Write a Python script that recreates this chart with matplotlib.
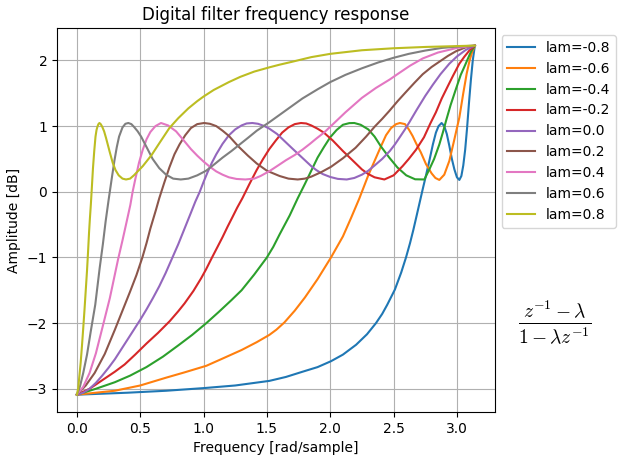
import matplotlib
matplotlib.use('Agg')
import matplotlib.pyplot as plt

# values (x in rad/sample, y in dB)
lams = [-0.8, -0.6, -0.4, -0.2, 0.0, 0.2, 0.4, 0.6, 0.8]

x_m08 = [0, .4, .706, 1.0, 1.25, 1.519, 1.65, 1.782, 1.9, 2.006, 2.1, 2.204, 2.29, 2.361, 2.41, 2.45, 2.51,
         2.56, 2.598, 2.63, 2.656, 2.68, 2.705, 2.73, 2.757, 2.782, 2.81, 2.834, 2.855, 2.879, 2.9, 2.92,
         2.94, 2.96, 2.98, 3.0, 3.019, 3.035, 3.05, 3.065, 3.08, 3.095, 3.11, 3.125, 3.1416]
y_m08 = [-3.09, -3.06, -3.03, -2.99, -2.95, -2.88, -2.82, -2.74, -2.67, -2.58, -2.48, -2.33, -2.17, -2.0, -1.86,
         -1.72, -1.49, -1.23, -1.0, -0.78, -0.58, -0.38, -0.17, 0.04, 0.26, 0.47, 0.72, 0.9, 1.0, 1.047, 1.0,
         0.88, 0.7, 0.5, 0.34, 0.22, 0.18, 0.24, 0.4, 0.64, 0.97, 1.35, 1.7, 2.0, 2.226]

x_m06 = [0, .3, .5, .706, .85, 1.022, 1.15, 1.3, 1.42, 1.519, 1.575, 1.638, 1.72, 1.8, 1.9, 2.006, 2.1,
         2.164, 2.23, 2.3, 2.35, 2.4, 2.44, 2.48, 2.52, 2.55, 2.59, 2.62, 2.65, 2.677, 2.715, 2.756, 2.8,
         2.83, 2.861, 2.9, 2.94, 2.98, 3.0, 3.019, 3.05, 3.077, 3.1, 3.119, 3.1416]
y_m06 = [-3.09, -3.03, -2.95, -2.83, -2.75, -2.65, -2.54, -2.41, -2.29, -2.18, -2.1, -1.99, -1.81, -1.61, -1.33,
         -1.0, -0.68, -0.4, -0.1, 0.25, 0.47, 0.69, 0.86, 0.97, 1.03, 1.047, 1.03, 0.95, 0.85, 0.74, 0.6, 0.42,
         0.28, 0.21, 0.18, 0.26, 0.47, 0.8, 0.97, 1.13, 1.5, 1.8, 2.0, 2.12, 2.226]

x_m04 = [0, .15, .3, .42, .549, .68, .8, .91, 1.022, 1.12, 1.22, 1.3, 1.4, 1.5, 1.55, 1.6, 1.68, 1.743,
         1.8, 1.85, 1.9, 1.95, 2.0, 2.05, 2.1, 2.15, 2.19, 2.24, 2.3, 2.35, 2.4, 2.466, 2.53, 2.6, 2.67,
         2.743, 2.782, 2.82, 2.861, 2.89, 2.914, 2.95, 2.993, 3.03, 3.058, 3.085, 3.11, 3.1416]
y_m04 = [-3.09, -3.0, -2.9, -2.8, -2.67, -2.51, -2.34, -2.18, -2.0, -1.83, -1.65, -1.5, -1.26, -1.0, -0.84,
         -0.65, -0.36, -0.1, 0.12, 0.32, 0.52, 0.68, 0.83, 0.94, 1.02, 1.045, 1.047, 1.02, 0.95, 0.84, 0.69, 0.52,
         0.37, 0.25, 0.19, 0.187, 0.34, 0.5, 0.72, 0.91, 1.08, 1.32, 1.57, 1.78, 1.9, 2.02, 2.13, 2.226]

x_m02 = [0, .1, .2, .3, .377, .46, .55, .64, .733, .8, .85, .92, .98, 1.02, 1.067, 1.11, 1.15, 1.19, 1.227,
         1.266, 1.306, 1.36, 1.419, 1.47, 1.519, 1.57, 1.62, 1.67, 1.72, 1.769, 1.81, 1.85, 1.9, 1.95, 2.02,
         2.1, 2.17, 2.25, 2.3, 2.35, 2.427, 2.5, 2.571, 2.62, 2.677, 2.74, 2.79, 2.834, 2.88, 2.926, 2.97,
         3.019, 3.06, 3.098, 3.1416]
y_m02 = [-3.09, -3.0, -2.87, -2.74, -2.63, -2.48, -2.31, -2.15, -1.97, -1.82, -1.7, -1.51, -1.32, -1.18, -1.0,
         -0.84, -0.69, -0.53, -0.39, -0.24, -0.1, 0.11, 0.33, 0.5, 0.65, 0.78, 0.9, 0.98, 1.03, 1.047, 1.04, 1.01,
         0.96, 0.9, 0.78, 0.62, 0.49, 0.34, 0.27, 0.22, 0.187, 0.25, 0.39, 0.5, 0.64, 0.83, 1.04, 1.21, 1.42,
         1.6, 1.77, 1.95, 2.06, 2.15, 2.226]

x_00 = [0, .05, .1, .15, .2, .25, .3, .35, .4, .45, .5, .55, .6, .65, .7, .75, .8, .85, .9, .935, .97, 1.0,
        1.03, 1.065, 1.1, 1.15, 1.2, 1.25, 1.3, 1.34, 1.385, 1.43, 1.48, 1.52, 1.58, 1.64, 1.7, 1.75, 1.8,
        1.85, 1.89, 1.94, 2.0, 2.06, 2.13, 2.19, 2.25, 2.3, 2.35, 2.41, 2.47, 2.51, 2.545, 2.59, 2.625,
        2.68, 2.75, 2.81, 2.87, 2.94, 3.0, 3.07, 3.1416]
y_00 = [-3.09, -3.06, -3.0, -2.91, -2.8, -2.68, -2.55, -2.4, -2.25, -2.1, -1.95, -1.79, -1.62, -1.44, -1.24,
        -1.02, -0.8, -0.56, -0.32, -0.15, 0.0, 0.15, 0.29, 0.44, 0.57, 0.73, 0.86, 0.95, 1.01, 1.04, 1.047,
        1.035, 1.0, 0.96, 0.88, 0.77, 0.66, 0.57, 0.48, 0.39, 0.33, 0.27, 0.225, 0.196, 0.187, 0.21, 0.26,
        0.32, 0.4, 0.5, 0.62, 0.72, 0.82, 0.95, 1.06, 1.24, 1.46, 1.63, 1.79, 1.95, 2.06, 2.16, 2.226]

x_02 = [0, .07, .14, .22, .3, .36, .42, .47, .517, .55, .58, .625, .65, .69, .73, .77, .81, .855, .9, .95,
        1.004, 1.05, 1.1, 1.15, 1.2, 1.275, 1.35, 1.42, 1.5, 1.6, 1.67, 1.743, 1.8, 1.85, 1.93, 2.006, 2.1,
        2.2, 2.283, 2.35, 2.41, 2.466, 2.532, 2.598, 2.665, 2.73, 2.8, 2.861, 2.93, 2.993, 3.07, 3.1416]
y_02 = [-3.09, -2.95, -2.76, -2.47, -2.1, -1.81, -1.52, -1.27, -1.0, -0.78, -0.56, -0.27, -0.1, 0.14, 0.37,
        0.57, 0.72, 0.86, 0.97, 1.03, 1.047, 1.035, 1.0, 0.93, 0.85, 0.69, 0.55, 0.43, 0.32, 0.24, 0.2, 0.187,
        0.2, 0.23, 0.3, 0.38, 0.51, 0.67, 0.84, 0.99, 1.11, 1.23, 1.38, 1.52, 1.66, 1.79, 1.9, 1.98, 2.07,
        2.14, 2.2, 2.226]

x_04 = [0, .05, .1, .15, .2, .26, .325, .36, .39, .422, .44, .462, .49, .52, .55, .58, .62, .664, .72, .783,
        .84, .9, .95, 1.0, 1.05, 1.1, 1.15, 1.2, 1.26, 1.33, 1.4, 1.45, 1.52, 1.58, 1.65, 1.72, 1.78, 1.84,
        1.89, 1.95, 2.0, 2.12, 2.25, 2.36, 2.47, 2.53, 2.63, 2.73, 2.85, 3.0, 3.1416]
y_04 = [-3.09, -2.97, -2.76, -2.46, -2.08, -1.62, -1.03, -0.74, -0.48, -0.2, 0.0, 0.2, 0.44, 0.64, 0.8, 0.91,
        1.0, 1.047, 1.01, 0.92, 0.79, 0.65, 0.55, 0.46, 0.38, 0.31, 0.26, 0.22, 0.195, 0.187, 0.2, 0.24, 0.314,
        0.39, 0.48, 0.56, 0.64, 0.73, 0.81, 0.9, 0.99, 1.21, 1.43, 1.58, 1.71, 1.79, 1.92, 2.03, 2.12, 2.19, 2.226]

x_06 = [0, .025, .05, .08, .11, .145, .18, .205, .227, .25, .275, .296, .315, .333, .36, .383, .406, .43,
        .45, .48, .507, .55, .598, .65, .704, .76, .82, .88, .95, 1.02, 1.08, 1.15, 1.22, 1.285, 1.35, 1.42,
        1.52, 1.65, 1.78, 1.9, 2.0, 2.12, 2.25, 2.38, 2.5, 2.62, 2.75, 2.88, 3.0, 3.1416]
y_06 = [-3.09, -2.96, -2.76, -2.48, -2.12, -1.72, -1.16, -0.8, -0.45, -0.13, 0.2, 0.47, 0.68, 0.84, 0.98, 1.035,
        1.047, 1.03, 0.99, 0.92, 0.84, 0.68, 0.5, 0.36, 0.26, 0.2, 0.187, 0.2, 0.25, 0.32, 0.41, 0.52, 0.62,
        0.72, 0.82, 0.93, 1.06, 1.24, 1.42, 1.56, 1.67, 1.78, 1.88, 1.97, 2.04, 2.1, 2.15, 2.19, 2.21, 2.226]

x_08 = [0, .01, .02, .03, .04, .05, .06, .07, .08, .088, .096, .103, .11, .118, .127, .137, .147, .155, .162,
        .17, .178, .188, .2, .215, .23, .245, .26, .283, .305, .33, .36, .388, .42, .45, .52, .59, .651, .73,
        .8, .88, .95, 1.0, 1.08, 1.2, 1.29, 1.4, 1.52, 1.6, 1.7, 1.85, 2.0, 2.25, 2.5, 2.75, 3.0, 3.1416]
y_08 = [-3.09, -3.0, -2.8, -2.6, -2.35, -2.08, -1.8, -1.5, -1.2, -0.92, -0.62, -0.4, -0.2, 0.06, 0.36, 0.62,
        0.84, 0.94, 0.99, 1.03, 1.047, 1.03, 0.99, 0.92, 0.82, 0.71, 0.6, 0.44, 0.33, 0.25, 0.2, 0.187, 0.2,
        0.25, 0.39, 0.56, 0.74, 0.97, 1.12, 1.27, 1.38, 1.45, 1.55, 1.67, 1.75, 1.83, 1.895, 1.935, 1.98, 2.05,
        2.1, 2.155, 2.185, 2.205, 2.218, 2.226]

xs = [x_m08, x_m06, x_m04, x_m02, x_00, x_02, x_04, x_06, x_08]
ys = [y_m08, y_m06, y_m04, y_m02, y_00, y_02, y_04, y_06, y_08]

plt.rcParams['mathtext.fontset'] = 'cm'

fig = plt.figure(figsize=(6.29, 4.61), dpi=100)
ax = fig.add_axes([0.0906, 0.106, 0.696, 0.833])

for lam, x, y in zip(lams, xs, ys):
    ax.plot(x, y, label='lam=%.1f' % lam)

ax.set_title('Digital filter frequency response')
ax.set_xlabel('Frequency [rad/sample]')
ax.set_ylabel('Amplitude [dB]')
ax.grid(True)
ax.legend(loc='upper left', bbox_to_anchor=(1.0, 1.0))

fig.text(0.882, 0.30, r'$\frac{z^{-1}-\lambda}{1-\lambda z^{-1}}$', fontsize=20,
         ha='center', va='center')

fig.savefig('out.png', dpi=100)
